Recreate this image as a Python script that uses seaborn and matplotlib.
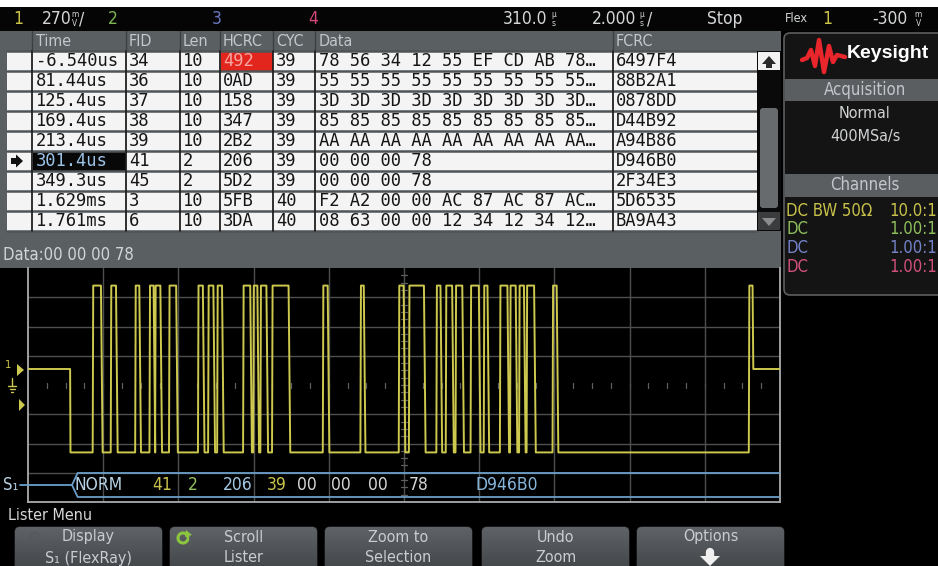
import numpy as np
import pandas as pd
import matplotlib
matplotlib.use("Agg")
import matplotlib.pyplot as plt
import seaborn as sns
from matplotlib.patches import Rectangle, FancyBboxPatch, Polygon
from matplotlib.colors import LinearSegmentedColormap
from matplotlib import font_manager

# ---------------- lister table data ----------------
header_labels = ["Time", "FID", "Len", "HCRC", "CYC", "Data", "FCRC"]
time_col = ["-6.540us", "81.44us", "125.4us", "169.4us", "213.4us",
            "301.4us", "349.3us", "1.629ms", "1.761ms"]
fid_col = ["34", "36", "37", "38", "39", "41", "45", "3", "6"]
len_col = ["10", "10", "10", "10", "10", "2", "2", "10", "10"]
hcrc_col = ["492", "0AD", "158", "347", "2B2", "206", "5D2", "5FB", "3DA"]
cyc_col = ["39", "39", "39", "39", "39", "39", "39", "40", "40"]
data_col = ["78 56 34 12 55 EF CD AB 78\u2026",
            "55 55 55 55 55 55 55 55 55\u2026",
            "3D 3D 3D 3D 3D 3D 3D 3D 3D\u2026",
            "85 85 85 85 85 85 85 85 85\u2026",
            "AA AA AA AA AA AA AA AA AA\u2026",
            "00 00 00 78",
            "00 00 00 78",
            "F2 A2 00 00 AC 87 AC 87 AC\u2026",
            "08 63 00 00 12 34 12 34 12\u2026"]
fcrc_col = ["6497F4", "88B2A1", "0878DD", "D44B92", "A94B86",
            "D946B0", "2F34E3", "5D6535", "BA9A43"]
selected_row = 5
hcrc_error_row = 0
detail_text = "Data:00 00 00 78"

# ---------------- waveform data (time in us, level in V) ----------------
frame_start_us = 301.12
frame_end_rise_us = 319.17
frame_end_us = 319.27
pulse_rise_us = [301.72, 302.20, 302.85, 303.23, 303.38, 303.75, 304.52, 304.79,
                 305.03, 305.72, 305.99, 306.18, 306.49, 307.84, 308.84, 309.86,
                 310.13, 310.86, 311.11, 311.37, 311.77, 312.12, 312.55, 312.82,
                 313.06, 313.26, 313.95]
pulse_fall_us = [301.94, 302.34, 302.96, 303.34, 303.52, 303.94, 304.65, 304.93,
                 305.16, 305.91, 306.10, 306.34, 306.93, 307.97, 308.93, 309.99,
                 310.53, 310.97, 311.28, 311.55, 311.99, 312.22, 312.75, 312.97,
                 313.19, 313.46, 314.06]
level_high_v = 0.77
level_low_v = -0.77
level_idle_v = 0.0

# ---------------- decoded bus (S1) ----------------
bus_labels = ["NORM", "41", "2", "206", "39", "00", "00", "00", "78", "D946B0"]
bus_times_us = [301.25, 303.30, 304.26, 305.19, 306.34, 307.16, 308.07, 309.05, 310.12, 311.90]
bus_colors = ["#b9d3e6", "#c9c24a", "#93c15e", "#a3c9e4", "#c9c24a",
              "#d6d6d6", "#d6d6d6", "#d6d6d6", "#d6d6d6", "#86b6dc"]

# ---------------- status / side panel text ----------------
channel_rows = [("DC BW 50\u03a9", "10.0:1", "#c9c24a"),
                ("DC", "1.00:1", "#8fbf5c"),
                ("DC", "1.00:1", "#7482c8"),
                ("DC", "1.00:1", "#d2507c")]
softkeys = [("Display", "S\u2081 (FlexRay)"), ("Scroll", "Lister"),
            ("Zoom to", "Selection"), ("Undo", "Zoom"), ("Options", "")]

# ---------------- styling ----------------
sns.set_theme(style="dark", rc={"axes.facecolor": "black", "figure.facecolor": "black"})
names = {f.name for f in font_manager.fontManager.ttflist}
if "Liberation Sans Narrow" in names:
    NARROW, STRETCH = "Liberation Sans Narrow", "normal"
else:
    NARROW, STRETCH = "DejaVu Sans", "condensed"
MONO = "DejaVu Sans Mono"
plt.rcParams["font.family"] = [NARROW, "DejaVu Sans"]

YEL = "#cdc84e"
GRAYBAND = "#5a5f62"
TXT = "#d4d6d8"

fig = plt.figure(figsize=(9.38, 5.66), dpi=100)
fig.patch.set_facecolor("black")
bg = fig.add_axes([0, 0, 1, 1], zorder=0)
bg.set_facecolor("black")
fg = fig.add_axes([0, 0, 1, 1], zorder=3)
fg.patch.set_alpha(0)

W, H = 938, 566


def T(x, y, s, c=TXT, size=12.5, fam=None, ha="left", va="center", weight="normal",
      ax=None, linespacing=1.2):
    a = ax if ax is not None else fg
    fams = [fam] if fam else [NARROW, "DejaVu Sans"]
    stretch = STRETCH if (fam is None and NARROW == "DejaVu Sans") else "normal"
    a.text(x, y, s, color=c, fontsize=size, family=fams, ha=ha, va=va,
           fontweight=weight, fontstretch=stretch, linespacing=linespacing)


def stacked(x, y, top, bot, c=TXT):
    T(x, y, top + "\n" + bot, c, size=6, ha="center", linespacing=0.95)


# ---------- top white strip + status bar ----------
bg.add_patch(Rectangle((0, 0), W, 7, fc="white", ec="none"))
bg.add_patch(Rectangle((0, 7), W, 24, fc="#050505", ec="none"))
ty = 19
T(13, ty, "1", "#c9c24a")
T(42, ty, "270"); stacked(75, ty, "m", "V"); T(79, ty, "/")
T(108, ty, "2", "#7fb552")
T(212, ty, "3", "#6a78c0")
T(308, ty, "4", "#d2467a")
T(503, ty, "310.0"); stacked(554, ty, "\u00b5", "s")
T(592, ty, "2.000"); stacked(642, ty, "\u00b5", "s"); T(647, ty, "/")
T(707, ty, "Stop")
T(785, ty, "Flex", size=9)
T(822, ty, "1", "#c9c24a")
T(872, ty, "-300"); stacked(918, ty, "m", "V")

# ---------- lister table ----------
col_edges = [7, 32, 126, 180, 220, 273, 315, 613, 757]
col_text_x = [36, 129, 183, 223, 276, 319, 616]
row_top, row_h = 51, 20
nrows = len(time_col)
bg.add_patch(Rectangle((0, 31), 781, 237, fc=GRAYBAND, ec="none"))
for lab, x in zip(header_labels, col_text_x):
    T(x, 41, lab, "#c3c7cb", size=11.5)
for x in col_edges[1:-1]:
    bg.plot([x, x], [31, 51], color="#3c4043", lw=1)
bg.add_patch(Rectangle((col_edges[0], row_top), col_edges[-1] - col_edges[0], nrows * row_h,
                       fc="#f4f4f4", ec="none"))
bg.add_patch(Rectangle((220.5, row_top + hcrc_error_row * row_h + 1), 52, row_h - 1.5,
                       fc="#e3261d", ec="none", zorder=2))
bg.add_patch(Rectangle((32.5, row_top + selected_row * row_h + 1), 93, row_h - 1.5,
                       fc="#080808", ec="none", zorder=2))
for i in range(nrows + 1):
    bg.plot([col_edges[0], col_edges[-1]], [row_top + i * row_h] * 2, color="#505456", lw=1.8, zorder=3)
for x in col_edges[1:-1]:
    bg.plot([x, x], [row_top, row_top + nrows * row_h], color="#202020", lw=1.3, zorder=3)
cols = [time_col, fid_col, len_col, hcrc_col, cyc_col, data_col, fcrc_col]
for i in range(nrows):
    yc = row_top + i * row_h + row_h / 2 + 0.5
    for j, (col, x) in enumerate(zip(cols, col_text_x)):
        c = "#151515"
        if j == 0 and i == selected_row:
            c = "#9cc2e6"
        if j == 3 and i == hcrc_error_row:
            c = "#f7a3a0"
        T(x, yc, col[i], c, size=12.3, fam=MONO)
# selection arrow
ay = row_top + selected_row * row_h + row_h / 2
bg.add_patch(Polygon([(11, ay - 3), (16, ay - 3), (16, ay - 6.5), (23, ay), (16, ay + 6.5),
                      (16, ay + 3), (11, ay + 3)], closed=True, fc="#111", ec="none", zorder=4))
# scroll bar
bg.add_patch(Rectangle((757, row_top), 24, nrows * row_h, fc="#0a0a0a", ec="none", zorder=4))
bg.add_patch(Rectangle((758, 52), 22, 18, fc="#f2f2f2", ec="none", zorder=5))
bg.add_patch(Polygon([(762, 64), (769, 56), (776, 64), (772, 64), (772, 68), (766, 68), (766, 64)],
                     closed=True, fc="#2a2a2a", ec="none", zorder=6))
bg.add_patch(FancyBboxPatch((760, 108), 18, 100, boxstyle="round,pad=0,rounding_size=3",
                            fc="#676b6e", ec="none", zorder=5))
bg.add_patch(Rectangle((758, 212), 22, 18, fc="#3a3c3e", ec="none", zorder=5))
bg.add_patch(Polygon([(762, 218), (776, 218), (769, 226)], closed=True, fc="#8a8c8e", ec="none", zorder=6))
T(3, 255, detail_text, "#d2d5d8", size=12)

# ---------- waveform ----------
t = [300.0, frame_start_us, frame_start_us + 0.01]
v = [level_idle_v, level_idle_v, level_low_v]
for r, f in zip(pulse_rise_us, pulse_fall_us):
    t += [r, r + 0.015, f, f + 0.045]
    v += [level_low_v, level_high_v, level_high_v, level_low_v]
t += [frame_end_rise_us, frame_end_rise_us + 0.015, frame_end_us, frame_end_us + 0.02, 320.0]
v += [level_low_v, level_high_v, level_high_v, level_idle_v, level_idle_v]
wave = pd.DataFrame({"t": t, "v": v, "i": np.arange(len(t))})

wx0, wx1, wy0, wy1 = 28, 780, 268, 502
wav = fig.add_axes([wx0 / W, 1 - wy1 / H, (wx1 - wx0) / W, (wy1 - wy0) / H], zorder=1)
wav.set_facecolor("black")
div_v = 0.27
ground_px = 369
px_per_div = (wy1 - wy0) / 8
ylo = -(wy1 - ground_px) / px_per_div * div_v
yhi = (ground_px - wy0) / px_per_div * div_v
wav.set_xlim(300, 320)
wav.set_ylim(ylo, yhi)
gcol = "#4e4f50"
for k in range(1, 10):
    wav.axvline(300 + 2 * k, color=gcol, lw=1.0, zorder=0)
for k in range(1, 8):
    if k != 4:
        wav.axhline(ylo + div_v * k, color=gcol, lw=1.0, zorder=0)
yc = ylo + div_v * 4
dv = div_v / px_per_div
for k in range(1, 40):
    x = 300 + 0.5 * k
    col = "#5e5f60" if k % 4 else gcol
    wav.plot([x, x], [yc - 2.5 * dv, yc + 2.5 * dv], color=col, lw=0.9, zorder=0)
for k in range(1, 32):
    y = ylo + div_v * k / 4
    wav.plot([310 - 0.07, 310 + 0.07], [y, y], color="#5e5f60", lw=0.9, zorder=0)

sns.lineplot(data=wave, x="t", y="v", sort=False, estimator=None, ax=wav,
             color=YEL, lw=1.4, zorder=3)

# decoded bus
bus_hi = (ground_px - 473) / px_per_div * div_v
bus_lo = (ground_px - 497) / px_per_div * div_v
bus_mid = (bus_hi + bus_lo) / 2
BUS = "#6b9fca"
wav.plot([299.8, frame_start_us + 0.05], [bus_mid, bus_mid], color=BUS, lw=1.3, clip_on=False, zorder=4)
wav.plot([frame_start_us + 0.05, frame_start_us + 0.2, 320], [bus_mid, bus_hi, bus_hi], color=BUS, lw=1.3, zorder=4)
wav.plot([frame_start_us + 0.05, frame_start_us + 0.2, 320], [bus_mid, bus_lo, bus_lo], color=BUS, lw=1.3, zorder=4)
for lab, tt, c in zip(bus_labels, bus_times_us, bus_colors):
    wav.text(tt, bus_mid, lab, color=c, fontsize=12.5, family=[NARROW, "DejaVu Sans"],
             fontstretch=STRETCH if NARROW == "DejaVu Sans" else "normal", va="center", ha="left", zorder=5)

wav.set_xticks([]); wav.set_yticks([])
wav.set_xlabel(""); wav.set_ylabel("")
for s in ["left", "bottom", "right"]:
    wav.spines[s].set_visible(True)
    wav.spines[s].set_color("#a9abad")
    wav.spines[s].set_linewidth(1.3)
wav.spines["top"].set_visible(False)
wav.grid(False)

# channel markers at left
T(5, 365, "1", YEL, size=8)
bg.add_patch(Polygon([(17, 364), (17, 376), (24, 370)], closed=True, fc=YEL, ec="none"))
bg.plot([12, 12], [378, 386], color=YEL, lw=1)
bg.plot([8, 16], [386, 386], color=YEL, lw=1)
bg.plot([9.5, 14.5], [389, 389], color=YEL, lw=1)
bg.plot([11, 13], [392, 392], color=YEL, lw=1)
bg.add_patch(Polygon([(19, 399), (19, 411), (25, 405)], closed=True, fc=YEL, ec="none"))
bg.add_patch(Polygon([(28, 268), (35, 268), (28, 275)], closed=True, fc="#e2782a", ec="none", zorder=5))
T(3, 485, "S\u2081", "#b9d3e6", size=12)

# ---------- soft-key menu ----------
T(8, 516, "Lister Menu", "#d8d8d8", size=11.5)
btn_x = [15, 170, 325, 482, 637]
btn_w = 147
cmap = LinearSegmentedColormap.from_list("btn", ["#5f6367", "#3d4144"])
grad = np.linspace(0, 1, 60).reshape(-1, 1)
for (l1, l2), x in zip(softkeys, btn_x):
    p = FancyBboxPatch((x, 527), btn_w, 50, boxstyle="round,pad=0,rounding_size=5",
                       fc="#4b4f52", ec="#2a2c2e", lw=0.8, zorder=2)
    bg.add_patch(p)
    im = bg.imshow(grad, extent=(x, x + btn_w, 577, 527), cmap=cmap, aspect="auto", zorder=2.5)
    im.set_clip_path(p)
    cx = x + btn_w / 2
    T(cx, 537, l1, "#c9cdd1", size=11.5, ha="center")
    if l2:
        T(cx, 558, l2, "#c9cdd1", size=11.5, ha="center")
# scroll icon
th = np.linspace(0.3, 2 * np.pi - 0.2, 40)
fg.plot(183 + 5 * np.cos(th), 538 + 5 * np.sin(th), color="#8cc63e", lw=2.2)
fg.add_patch(Polygon([(186, 530), (192, 535), (185, 537)], closed=True, fc="#8cc63e", ec="none"))
# options arrow
fg.add_patch(Polygon([(700, 556), (720, 556), (710, 566)], closed=True, fc="#f0f0f0", ec="none"))
fg.plot([710, 710], [552, 556], color="#f0f0f0", lw=6)
# faint display icon
th2 = np.linspace(0, 2 * np.pi, 40)
fg.plot(35 + 5 * np.cos(th2), 538 + 5 * np.sin(th2), color="#55595c", lw=1.2)

# ---------- right info panel ----------
bg.add_patch(FancyBboxPatch((784, 33), 170, 262, boxstyle="round,pad=0,rounding_size=6",
                            fc="#141414", ec="#5c5e60", lw=1.2, zorder=1))
bg.add_patch(Rectangle((785, 79), 160, 22, fc="#5a5e61", ec="none", zorder=2))
bg.add_patch(Rectangle((785, 174), 160, 23, fc="#5a5e61", ec="none", zorder=2))
logo_x = [802, 807, 811, 815, 819, 824, 829, 833, 837, 845]
logo_y = [60, 58, 50, 66, 40, 72, 46, 62, 55, 57]
fg.plot(logo_x, logo_y, color="#e8262b", lw=3.2, solid_capstyle="round", solid_joinstyle="round")
T(847, 54, "Keysight", "white", size=14, fam="Liberation Sans", weight="bold")
T(865, 90, "Acquisition", "#c3c7cb", size=12, ha="center")
T(865, 113, "Normal", "#d0d2d4", size=11.5, ha="center")
T(865, 136, "400MSa/s", "#d0d2d4", size=11.5, ha="center")
T(865, 185, "Channels", "#c3c7cb", size=12, ha="center")
for k, (left, right, c) in enumerate(channel_rows):
    yy = 211 + k * 18.5
    T(786, yy, left, c, size=12)
    T(937, yy, right, c, size=12, ha="right")

for a in (bg, fg):
    a.set_xlim(0, W)
    a.set_ylim(H, 0)
    a.axis("off")

fig.savefig("out.png", dpi=100, facecolor="black")
